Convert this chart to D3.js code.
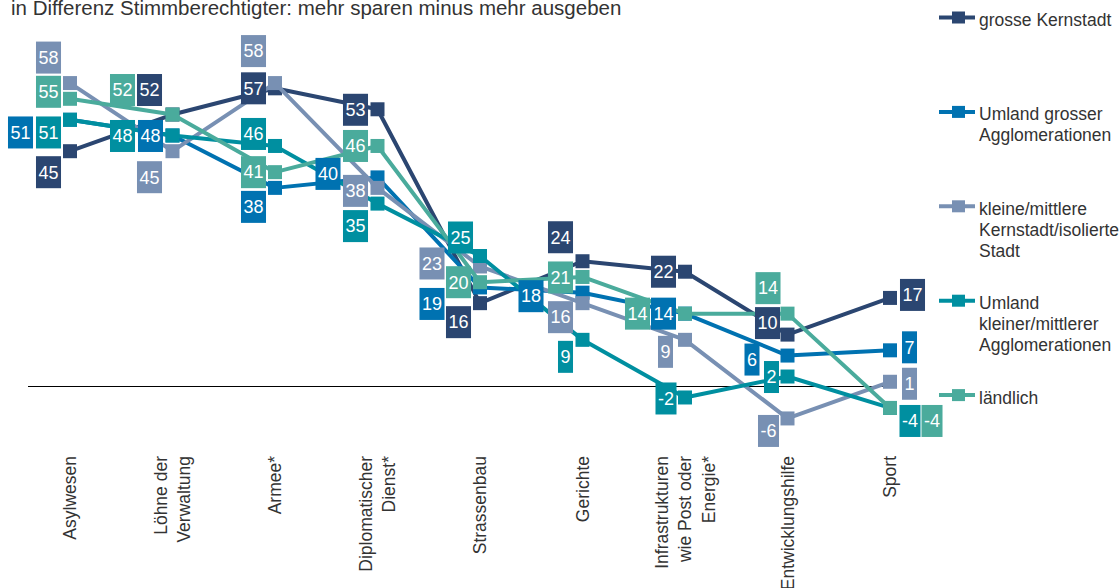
<!DOCTYPE html>
<html>
<head>
<meta charset="utf-8">
<script src="https://cdn.jsdelivr.net/npm/d3@7"></script>
<style>
  html, body { margin: 0; padding: 0; background: #fff; }
  svg { display: block; font-family: "Liberation Sans", Arial, sans-serif; }
</style>
</head>
<body>
<svg id="chart" width="1120" height="588"></svg>
<script>
// Policy areas (line breaks mark wrapped axis labels)
const categories = [
  "Asylwesen",
  "Löhne der\nVerwaltung",
  "Armee*",
  "Diplomatischer\nDienst*",
  "Strassenbau",
  "Gerichte",
  "Infrastrukturen\nwie Post oder\nEnergie*",
  "Entwicklungshilfe",
  "Sport"
];

// Series names as shown in the legend
const seriesNames = [
  "grosse Kernstadt",
  "Umland grosser\nAgglomerationen",
  "kleine/mittlere\nKernstadt/isolierte\nStadt",
  "Umland\nkleiner/mittlerer\nAgglomerationen",
  "ländlich"
];

// Percentage-point difference: "mehr sparen" minus "mehr ausgeben"
const grosseKernstadt   = [45, 52, 57, 53, 16, 24, 22, 10, 17];
const umlandGrosser     = [51, 48, 38, 40, 19, 18, 14,  6,  7];
const kleineMittlere    = [58, 45, 58, 38, 23, 16,  9, -6,  1];
const umlandKleiner     = [51, 48, 46, 35, 25,  9, -2,  2, -4];
const laendlich         = [55, 52, 41, 46, 20, 21, 14, 14, -4];

const seriesValues = [grosseKernstadt, umlandGrosser, kleineMittlere, umlandKleiner, laendlich];
const seriesColors = ["#2b4671", "#0072b1", "#7890b3", "#008fa0", "#4aab9c"];

// Where each value box sits relative to its marker (px, box centre)
const labelNudge = [
  [[-21.5, 21], [-23, -24.5], [-21.5, 0], [-22, 0.5], [-21.5, 19], [-22, -24], [-21.5, 0], [-20, -11.5], [22.5, -3]],
  [[-49.5, 12.7], [-22, 0.5], [-21.5, 19], [-49.5, -3.5], [-48, 16.5], [-51.5, 3.5], [-21.5, 0], [-35.5, 4], [19.5, -3]],
  [[-21.5, -25.5], [-23, 26], [-21.5, -32], [-22, 3], [-48, -3], [-22, 14], [-19.5, 12], [-19, 12.5], [19.5, 2]],
  [[-21.5, 12.7], [-50, 0.5], [-21.5, -12], [-22, 22.5], [-19.5, -18.5], [-17, 17], [-19, 1], [-16, 0.5], [20, 13]],
  [[-21.5, -7], [-50, -24.5], [-21.5, 0], [-22, 0], [-21.5, 0], [-22, 0.5], [-47.5, 0], [-19.5, -25.5], [42, 13]]
];

const svg = d3.select("#chart");
const textColor = "#333";

const x = d3.scalePoint()
  .domain(d3.range(categories.length))
  .range([70, 890]);

const y = d3.scaleLinear()
  .domain([-10, 60])
  .range([439.4, 72.6]);

// Title
svg.append("text")
  .attr("x", 11)
  .attr("y", 15)
  .attr("font-size", 20.5)
  .attr("fill", textColor)
  .text("in Differenz Stimmberechtigter: mehr sparen minus mehr ausgeben");

// Zero reference line
const zeroY = Math.round(y(0)) - 0.5;
svg.append("line")
  .attr("x1", x(0) - 42)
  .attr("x2", x(categories.length - 1) - 2)
  .attr("y1", zeroY)
  .attr("y2", zeroY)
  .attr("stroke", "#000")
  .attr("stroke-width", 1);

// Category labels, rotated, hanging below the plot
const xLabels = svg.append("g").attr("class", "x-labels");
categories.forEach((cat, i) => {
  const lines = cat.split("\n");
  const g = xLabels.append("g")
    .attr("transform", `translate(${x(i)},456) rotate(-90)`);
  lines.forEach((ln, k) => {
    g.append("text")
      .attr("x", 0)
      .attr("y", (k - (lines.length - 1) / 2) * 23.5)
      .attr("dy", "0.35em")
      .attr("text-anchor", "end")
      .attr("font-size", 17.5)
      .attr("fill", textColor)
      .text(ln);
  });
});

// Lines and markers
const lineGen = d3.line()
  .x((d, i) => x(i))
  .y(d => y(d));

const marks = svg.append("g").attr("class", "series");
seriesValues.forEach((vals, s) => {
  const g = marks.append("g");
  g.append("path")
    .datum(vals)
    .attr("d", lineGen)
    .attr("fill", "none")
    .attr("stroke", seriesColors[s])
    .attr("stroke-width", 4)
    .attr("stroke-linejoin", "round");
  g.selectAll("rect")
    .data(vals)
    .join("rect")
    .attr("x", (d, i) => x(i) - 7)
    .attr("y", d => y(d) - 7)
    .attr("width", 14)
    .attr("height", 14)
    .attr("fill", seriesColors[s]);
});

// Value boxes
const labels = svg.append("g").attr("class", "value-labels");
seriesValues.forEach((vals, s) => {
  vals.forEach((v, i) => {
    const [dx, dy] = labelNudge[s][i];
    const cx = x(i) + dx;
    const cy = y(v) + dy;
    const g = labels.append("g");
    const rect = g.append("rect").attr("fill", seriesColors[s]);
    const t = g.append("text")
      .attr("x", cx)
      .attr("y", cy)
      .attr("dy", "0.35em")
      .attr("text-anchor", "middle")
      .attr("font-size", 18)
      .attr("fill", "#fff")
      .text(v);
    const w = t.node().getComputedTextLength() + 5;
    rect.attr("x", cx - w / 2)
      .attr("y", cy - 16)
      .attr("width", w)
      .attr("height", 32);
  });
});

// Legend
const legend = svg.append("g").attr("class", "legend");
seriesNames.forEach((name, s) => {
  const g = legend.append("g")
    .attr("transform", `translate(939,${17.5 + s * 94.4})`);
  g.append("line")
    .attr("x1", 0).attr("x2", 36)
    .attr("y1", 0).attr("y2", 0)
    .attr("stroke", seriesColors[s])
    .attr("stroke-width", 4);
  g.append("rect")
    .attr("x", 13).attr("y", -6)
    .attr("width", 13).attr("height", 12)
    .attr("fill", seriesColors[s]);
  name.split("\n").forEach((ln, k) => {
    g.append("text")
      .attr("x", 40)
      .attr("y", 8.5 + k * 21)
      .attr("font-size", 17.5)
      .attr("fill", textColor)
      .text(ln);
  });
});
</script>
</body>
</html>
